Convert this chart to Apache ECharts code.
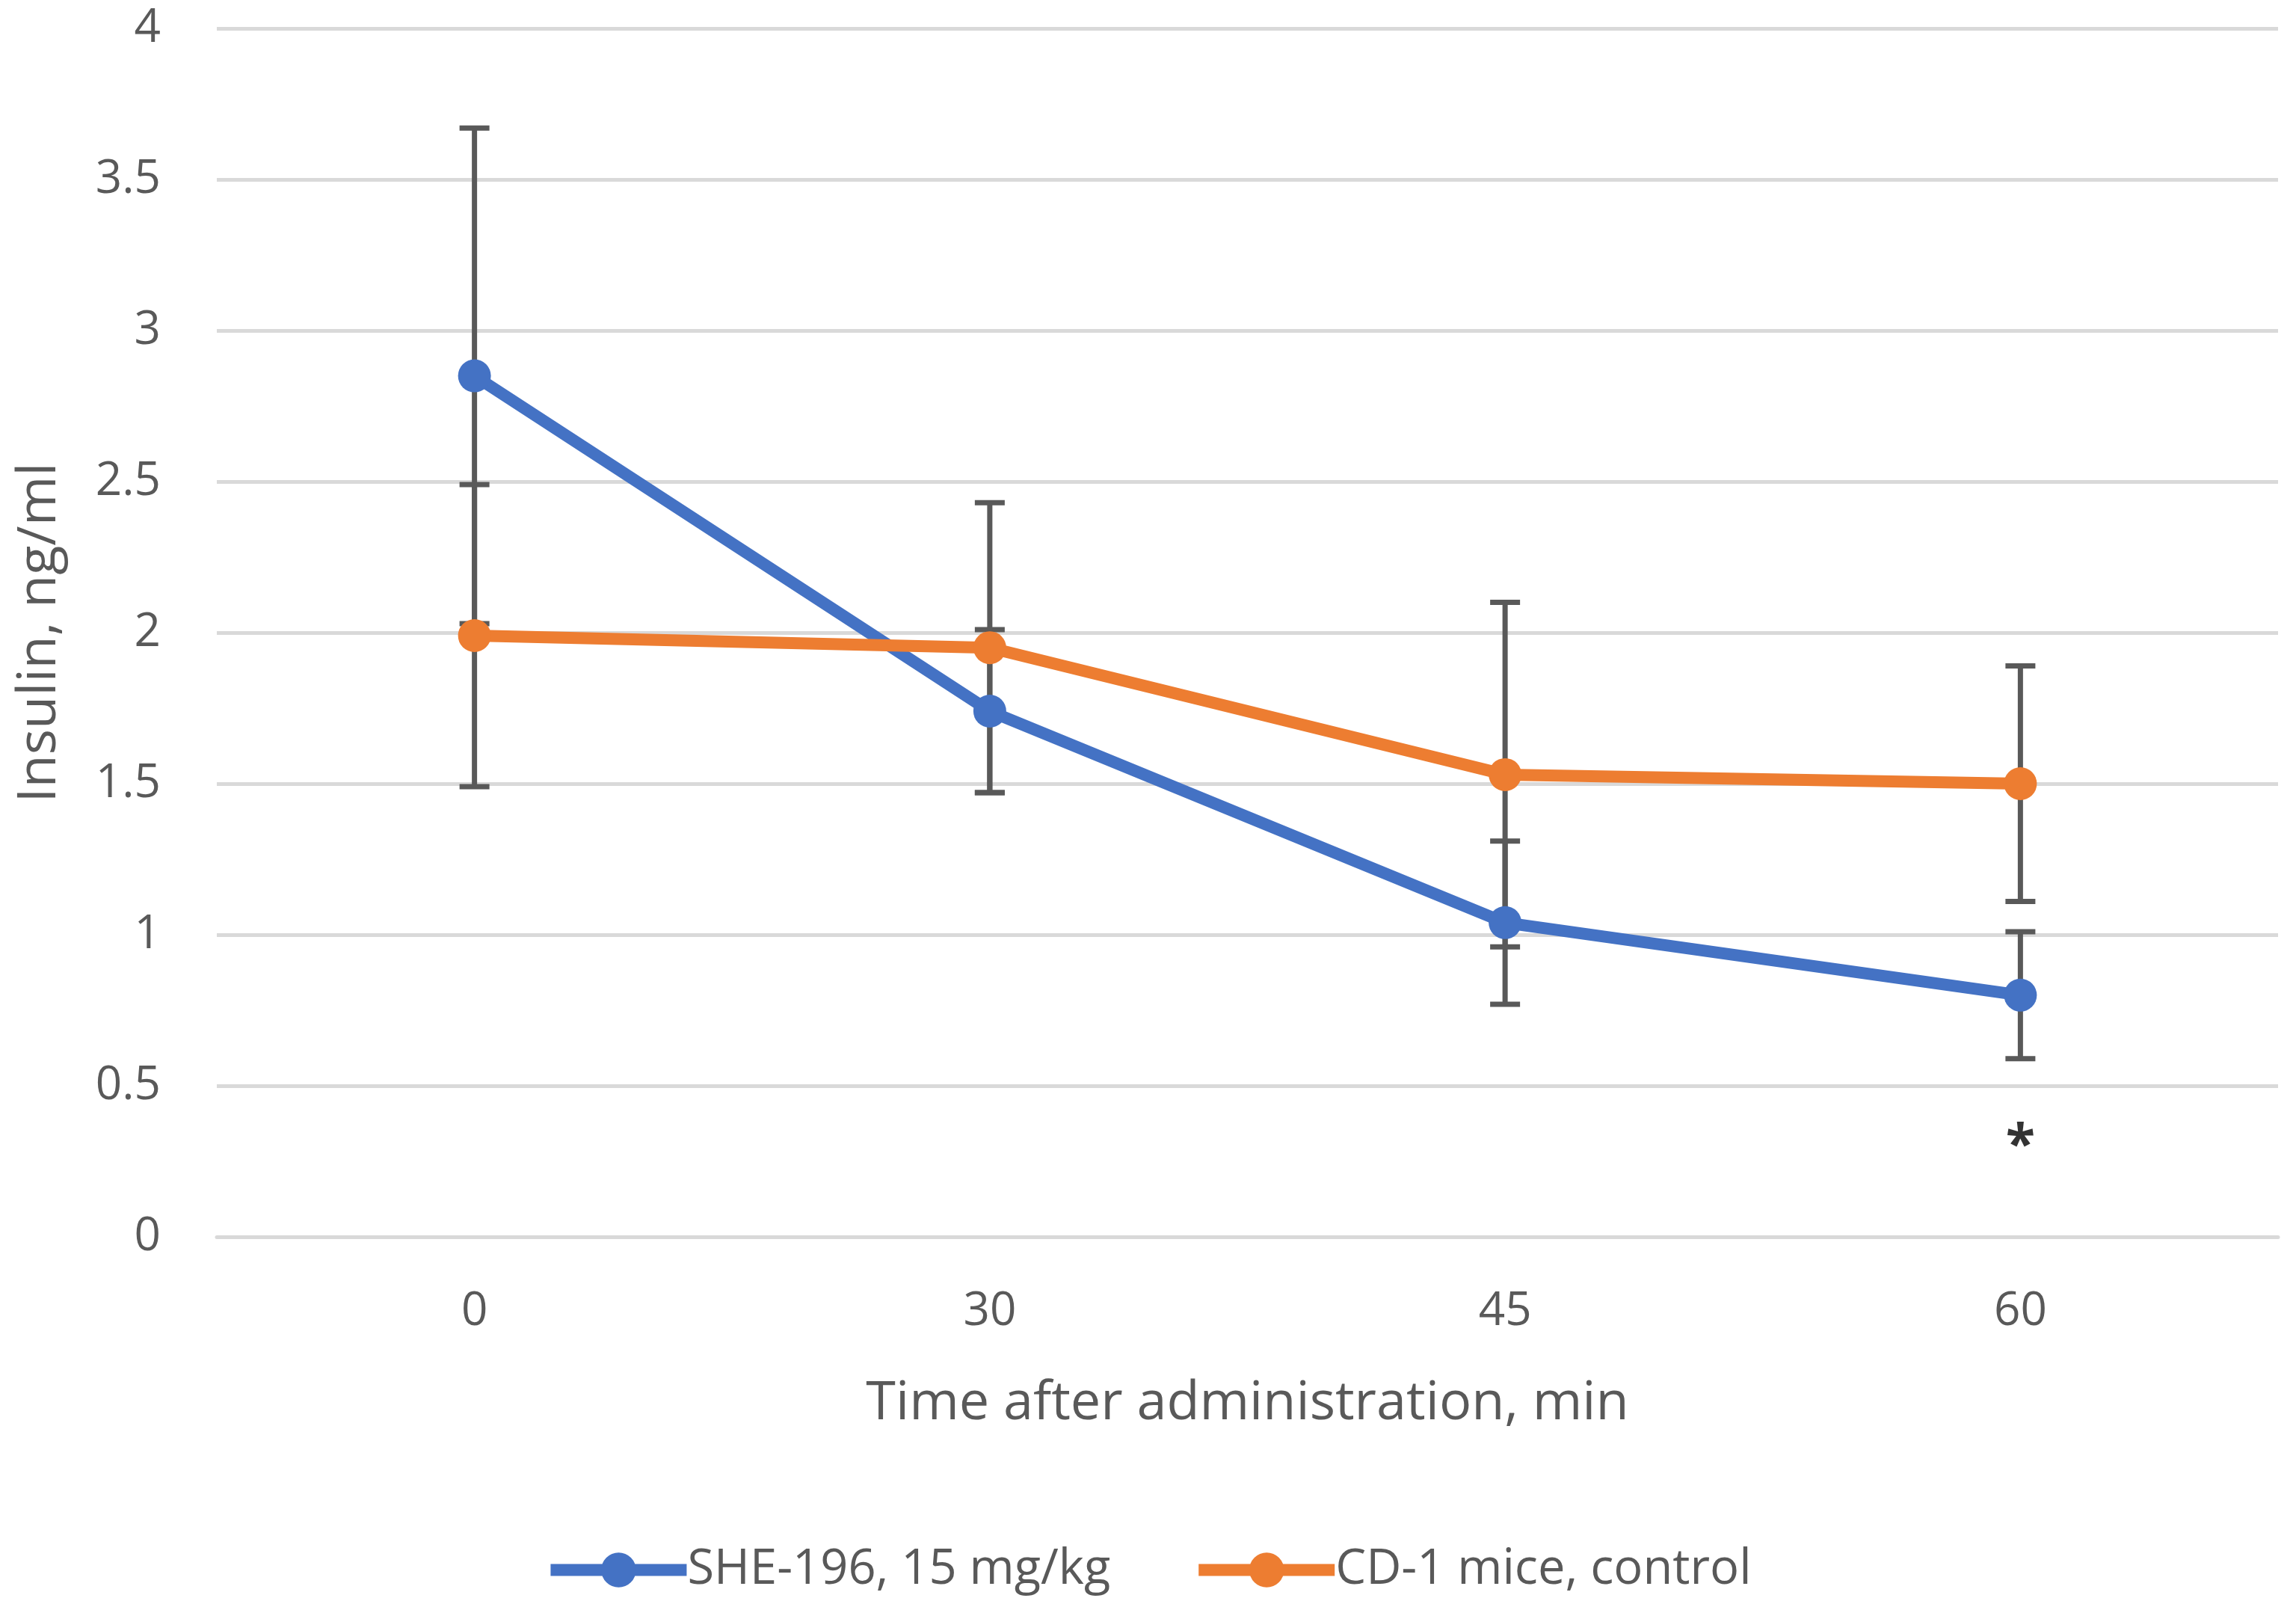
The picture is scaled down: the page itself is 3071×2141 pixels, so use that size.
<!DOCTYPE html>
<html>
<head>
<meta charset="utf-8">
<script src="https://cdn.jsdelivr.net/npm/echarts@6/dist/echarts.min.js"></script>
<style>
html,body{margin:0;padding:0;background:#fff;}
#c{width:3071px;height:2141px;}
</style>
</head>
<body>
<div id="c"></div>
<script>
// ---- data ----
var categories = ['0', '30', '45', '60'];
var sheName = 'SHE-196, 15 mg/kg';
var ctrlName = 'CD-1 mice, control';
var sheValues = [2.85, 1.74, 1.04, 0.80];
var sheErrors = [0.82, 0.27, 0.27, 0.21];
var ctrlValues = [1.99, 1.95, 1.53, 1.50];
var ctrlErrors = [0.50, 0.48, 0.57, 0.39];
var sigLabels = ['', '', '', '*'];
var sigValues = [null, null, null, 0.34];
var yTicks = [0, 0.5, 1, 1.5, 2, 2.5, 3, 3.5, 4];

function errData(vals, errs) {
  return vals.map(function (v, i) { return [i, v - errs[i], v + errs[i]]; });
}

var FONT = '"Open Sans", "Noto Sans", sans-serif';
var TXT = '#595959';
var errColor = '#595959';

function renderErr(params, api) {
  var x = api.value(0);
  var lo = api.coord([x, api.value(1)]);
  var hi = api.coord([x, api.value(2)]);
  var half = 20;
  var st = { stroke: errColor, lineWidth: 7 };
  return {
    type: 'group',
    children: [
      { type: 'line', shape: { x1: lo[0], y1: lo[1], x2: hi[0], y2: hi[1] }, style: st },
      { type: 'line', shape: { x1: hi[0] - half, y1: hi[1], x2: hi[0] + half, y2: hi[1] }, style: st },
      { type: 'line', shape: { x1: lo[0] - half, y1: lo[1], x2: lo[0] + half, y2: lo[1] }, style: st }
    ]
  };
}

var chart = echarts.init(document.getElementById('c'));
chart.setOption({
  backgroundColor: '#ffffff',
  animation: false,
  textStyle: { fontFamily: FONT, color: TXT },
  grid: { left: 290, right: 24, top: 38, bottom: 487, containLabel: false },
  legend: {
    bottom: 4,
    left: 'center',
    data: [sheName, ctrlName],
    itemWidth: 182,
    itemHeight: 58,
    itemGap: 110,
    lineStyle: { width: 16 },
    textStyle: { fontFamily: FONT, fontSize: 65, color: TXT, padding: [0, 0, 0, -4] }
  },
  xAxis: {
    type: 'category',
    data: categories,
    boundaryGap: true,
    axisLine: { show: true, lineStyle: { color: '#d9d9d9', width: 5 } },
    axisTick: { show: false },
    axisLabel: { fontFamily: FONT, fontSize: 62, color: TXT, margin: 69 },
    name: 'Time after administration, min',
    nameLocation: 'middle',
    nameGap: 187,
    nameTextStyle: { fontFamily: FONT, fontSize: 72, color: TXT }
  },
  yAxis: {
    type: 'value',
    min: yTicks[0],
    max: yTicks[yTicks.length - 1],
    interval: 0.5,
    axisLine: { show: false },
    axisTick: { show: false },
    splitLine: { lineStyle: { color: '#d9d9d9', width: 5 } },
    axisLabel: { fontFamily: FONT, fontSize: 62, color: TXT, margin: 75 },
    name: 'Insulin, ng/ml',
    nameLocation: 'middle',
    nameGap: 201,
    nameTextStyle: { fontFamily: FONT, fontSize: 72, color: TXT }
  },
  series: [
    {
      name: sheName + ' err', type: 'custom', renderItem: renderErr,
      data: errData(sheValues, sheErrors), encode: { x: 0, y: [1, 2] }, z: 1, silent: true
    },
    {
      name: ctrlName + ' err', type: 'custom', renderItem: renderErr,
      data: errData(ctrlValues, ctrlErrors), encode: { x: 0, y: [1, 2] }, z: 1, silent: true
    },
    {
      name: sheName, type: 'line', data: sheValues, z: 3,
      symbol: 'circle', symbolSize: 44,
      lineStyle: { color: '#4472C4', width: 16 },
      itemStyle: { color: '#4472C4' }
    },
    {
      name: ctrlName, type: 'line', data: ctrlValues, z: 4,
      symbol: 'circle', symbolSize: 44,
      lineStyle: { color: '#ED7D31', width: 16 },
      itemStyle: { color: '#ED7D31' }
    },
    {
      name: 'sig', type: 'scatter', data: sigValues, symbolSize: 1,
      itemStyle: { color: 'rgba(0,0,0,0)' }, z: 5, silent: true,
      label: {
        show: true, position: 'inside',
        formatter: function (p) { return sigLabels[p.dataIndex]; },
        fontFamily: FONT, fontSize: 72, fontWeight: 'bold', color: '#000000', offset: [0, 18]
      }
    }
  ]
});
</script>
</body>
</html>
